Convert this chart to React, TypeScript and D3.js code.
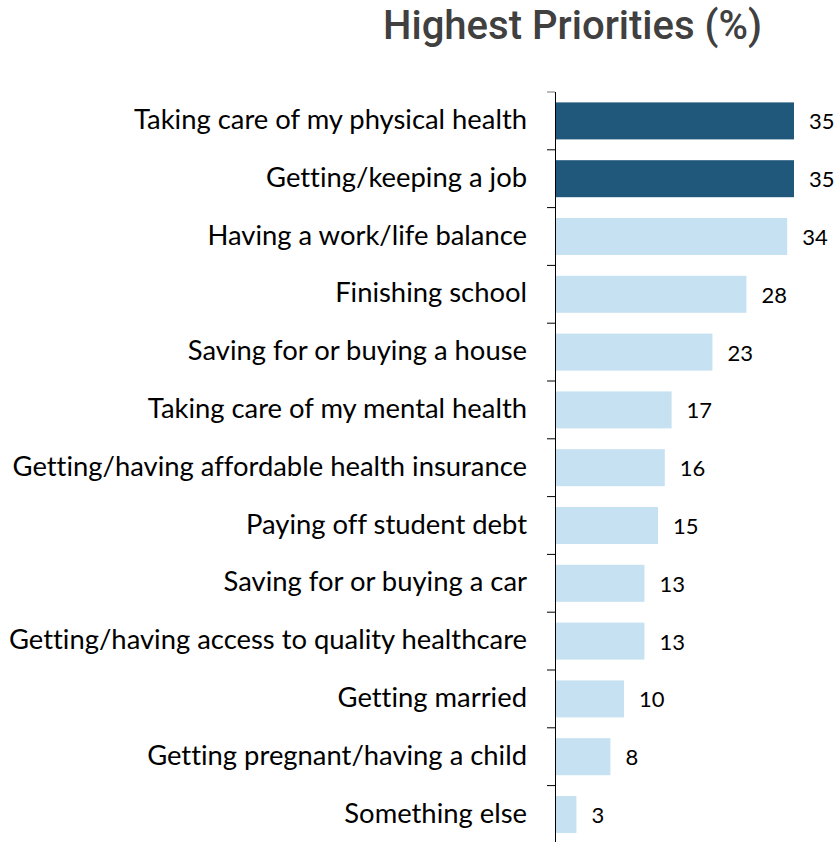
import React from "react";
import * as d3 from "d3";

const categories = [
  "Taking care of my physical health",
  "Getting/keeping a job",
  "Having a work/life balance",
  "Finishing school",
  "Saving for or buying a house",
  "Taking care of my mental health",
  "Getting/having affordable health insurance",
  "Paying off student debt",
  "Saving for or buying a car",
  "Getting/having access to quality healthcare",
  "Getting married",
  "Getting pregnant/having a child",
  "Something else",
];
const values = [35, 35, 34, 28, 23, 17, 16, 15, 13, 13, 10, 8, 3];
const highlighted = [true, true, false, false, false, false, false, false, false, false, false, false, false];
const title = "Highest Priorities (%)";

const W = 838;
const H = 842;
const axisX = 555;
const top = 92;
const step = 57.8;

export default function App() {
  const y = d3
    .scaleBand<string>()
    .domain(categories)
    .range([top, top + step * categories.length])
    .paddingInner(0.36)
    .paddingOuter(0.18);
  const x = d3.scaleLinear().domain([0, 35]).range([axisX, axisX + 238]);
  const tickYs = categories.map((_, i) => top + i * step);

  return (
    <svg
      width={W}
      height={H}
      style={{ position: "absolute", left: 0, top: 0, background: "#fff", fontVariantLigatures: "none" }}
    >
      <text
        x={383}
        y={39}
        fontFamily="Roboto, sans-serif"
        fontWeight={500}
        fontSize={40}
        fill="#404040"
        textLength={379}
        lengthAdjust="spacingAndGlyphs"
      >
        {title}
      </text>
      {categories.map((c, i) => {
        const cy = (y(c) as number) + y.bandwidth() / 2;
        return (
          <g key={c}>
            <rect
              x={x(0) + 1}
              y={y(c)}
              width={x(values[i]) - x(0)}
              height={y.bandwidth()}
              fill={highlighted[i] ? "#1F587B" : "#C6E1F1"}
            />
            <text
              x={x(values[i]) + 16}
              y={cy + 8.5}
              fontFamily="Lato, sans-serif"
              fontSize={22}
              fill="#000"
            >
              {values[i]}
            </text>
            <text
              x={527}
              y={cy + 8}
              textAnchor="end"
              fontFamily="Lato, sans-serif"
              fontSize={27.4}
              fill="#000"
            >
              {c}
            </text>
          </g>
        );
      })}
      {tickYs.map((t, i) => (
        <line
          key={i}
          x1={axisX - 8}
          x2={axisX}
          y1={t}
          y2={t}
          stroke={i === 0 ? "#777" : "#000"}
          strokeWidth={1}
        />
      ))}
      <line x1={axisX + 0.5} x2={axisX + 0.5} y1={top} y2={H} stroke="#000" strokeWidth={1} />
    </svg>
  );
}
